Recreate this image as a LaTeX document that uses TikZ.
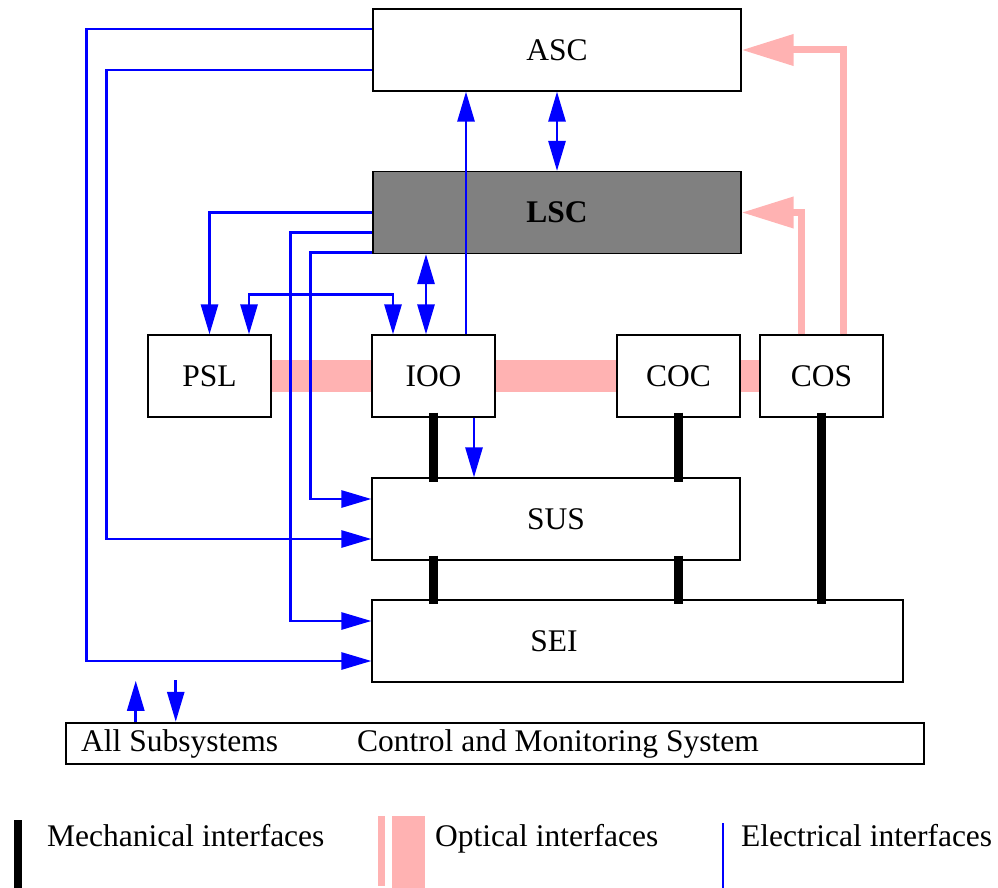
\documentclass[tikz,border=0pt]{standalone}
\usepackage{fontspec}
\setmainfont{Liberation Serif}
\usetikzlibrary{arrows.meta}

\definecolor{optpink}{RGB}{255,178,178}

\begin{document}
\begin{tikzpicture}[x=1pt, y=-1pt, font=\fontsize{31.5}{36}\selectfont,
    box/.style={draw, line width=1.2pt, fill=white, minimum width=123pt,
      minimum height=82pt, inner sep=0pt},
    widebox/.style={box, minimum width=368pt},
    txt/.style={anchor=base west, inner sep=0pt},
    elec/.style={draw=blue, line width=2.8pt},
    opt/.style={draw=optpink, line width=7pt, -{Triangle[length=52pt, width=30pt]}},
    mech/.style={draw=black, line width=9pt},
    >={Triangle[length=30pt, width=17pt]}]
    \useasboundingbox (0,0) rectangle (998,888);

    % Optical bench (behind the boxes)
    \coordinate (bandL) at (271,376);
    \coordinate (bandR) at (760,376);
    \draw[optpink, line width=32pt] (bandL) -- (bandR);

    % Subsystems
    \node[widebox] (ASC) at (557,50) {ASC};
    \node[widebox, fill=gray] (LSC) at (557,212.5) {\textbf{LSC}};
    \node[box] (PSL) at (209.5,376) {PSL};
    \node[box] (IOO) at (433.5,376) {IOO};
    \node[box] (COC) at (678.5,376) {COC};
    \node[box] (COS) at (821.5,376) {COS};
    \node[widebox] (SUS) at (556,519) {SUS};
    \node[box, minimum width=531pt, label={[xshift=-83.5pt]center:SEI}] (SEI) at (637.5,641) {};

    % Control and monitoring
    \node[draw, line width=2.5pt, minimum width=858pt, minimum height=41pt] (CMS) at (495,743.5) {};
    \node[txt] (cmsall) at (81,751) {All Subsystems};
    \node[txt] (cmsname) at (357,751) {Control and Monitoring System};

    % Electrical interfaces
    \draw[elec,->] ([yshift=21pt]ASC.west) -- ++(-286,0) |- ([yshift=-20pt]SEI.west);
    \draw[elec,->] ([yshift=-20pt]ASC.west) -- ++(-266,0) |- ([yshift=-20pt]SUS.west);
    \draw[elec,->] (LSC.west) -| (PSL.north);
    \draw[elec,->] ([yshift=-20pt]LSC.west) -- ++(-82,0) |- ([yshift=20pt]SEI.west);
    \draw[elec,->] ([yshift=-40pt]LSC.west) -- ++(-62,0) |- ([yshift=20pt]SUS.west);
    \draw[elec,->] ([xshift=32.5pt]IOO.north) -- ([xshift=32.5pt]IOO.north |- ASC.south);
    \draw[elec,<->] (ASC.south) -- (LSC.north);
    \draw[elec,<->] ([xshift=-7.5pt]IOO.north |- LSC.south) -- ([xshift=-7.5pt]IOO.north);
    \draw[elec,<->] ([xshift=39.5pt]PSL.north) -- ++(0,-40) -| ([xshift=-40.5pt]IOO.north);
    \draw[elec,->] ([xshift=40.5pt]IOO.south) -- ([xshift=40.5pt]IOO.south |- SUS.north);
    \draw[elec,->] ([xshift=71pt]CMS.north west) -- ++(0,-41);
    \draw[elec,<-] ([xshift=111pt]CMS.north west) -- ++(0,-42);

    % Optical interfaces
    \draw[opt] ([xshift=21.5pt]COS.north) |- (ASC.east);
    \draw[opt] ([xshift=-20.5pt]COS.north) |- (LSC.east);

    % Mechanical interfaces
    \draw[mech] ([yshift=5pt]IOO.south) -- ([yshift=-5pt]IOO.south |- SUS.north);
    \draw[mech] ([yshift=5pt]COC.south) -- ([yshift=-5pt]COC.south |- SUS.north);
    \draw[mech] ([yshift=5pt]SUS.south -| IOO.south) -- ([yshift=-5pt]SEI.north -| IOO.south);
    \draw[mech] ([yshift=5pt]SUS.south -| COC.south) -- ([yshift=-5pt]SEI.north -| COC.south);
    \draw[mech] ([yshift=5pt]COS.south) -- ([yshift=-5pt]COS.south |- SEI.north);

    % Legend
    \draw[black, line width=8pt] (18,820) -- (18,888);
    \node[txt] (mechtxt) at (47,846) {Mechanical interfaces};
    \draw[optpink, line width=7pt] (381,816) -- (381,886);
    \draw[optpink, line width=33pt] (408.5,816) -- (408.5,888);
    \node[txt] (opttxt) at (435,846) {Optical interfaces};
    \draw[blue, line width=2pt] (723,823) -- (723,888);
    \node[txt] (electxt) at (741,846) {Electrical interfaces};
  \end{tikzpicture}
\end{document}
